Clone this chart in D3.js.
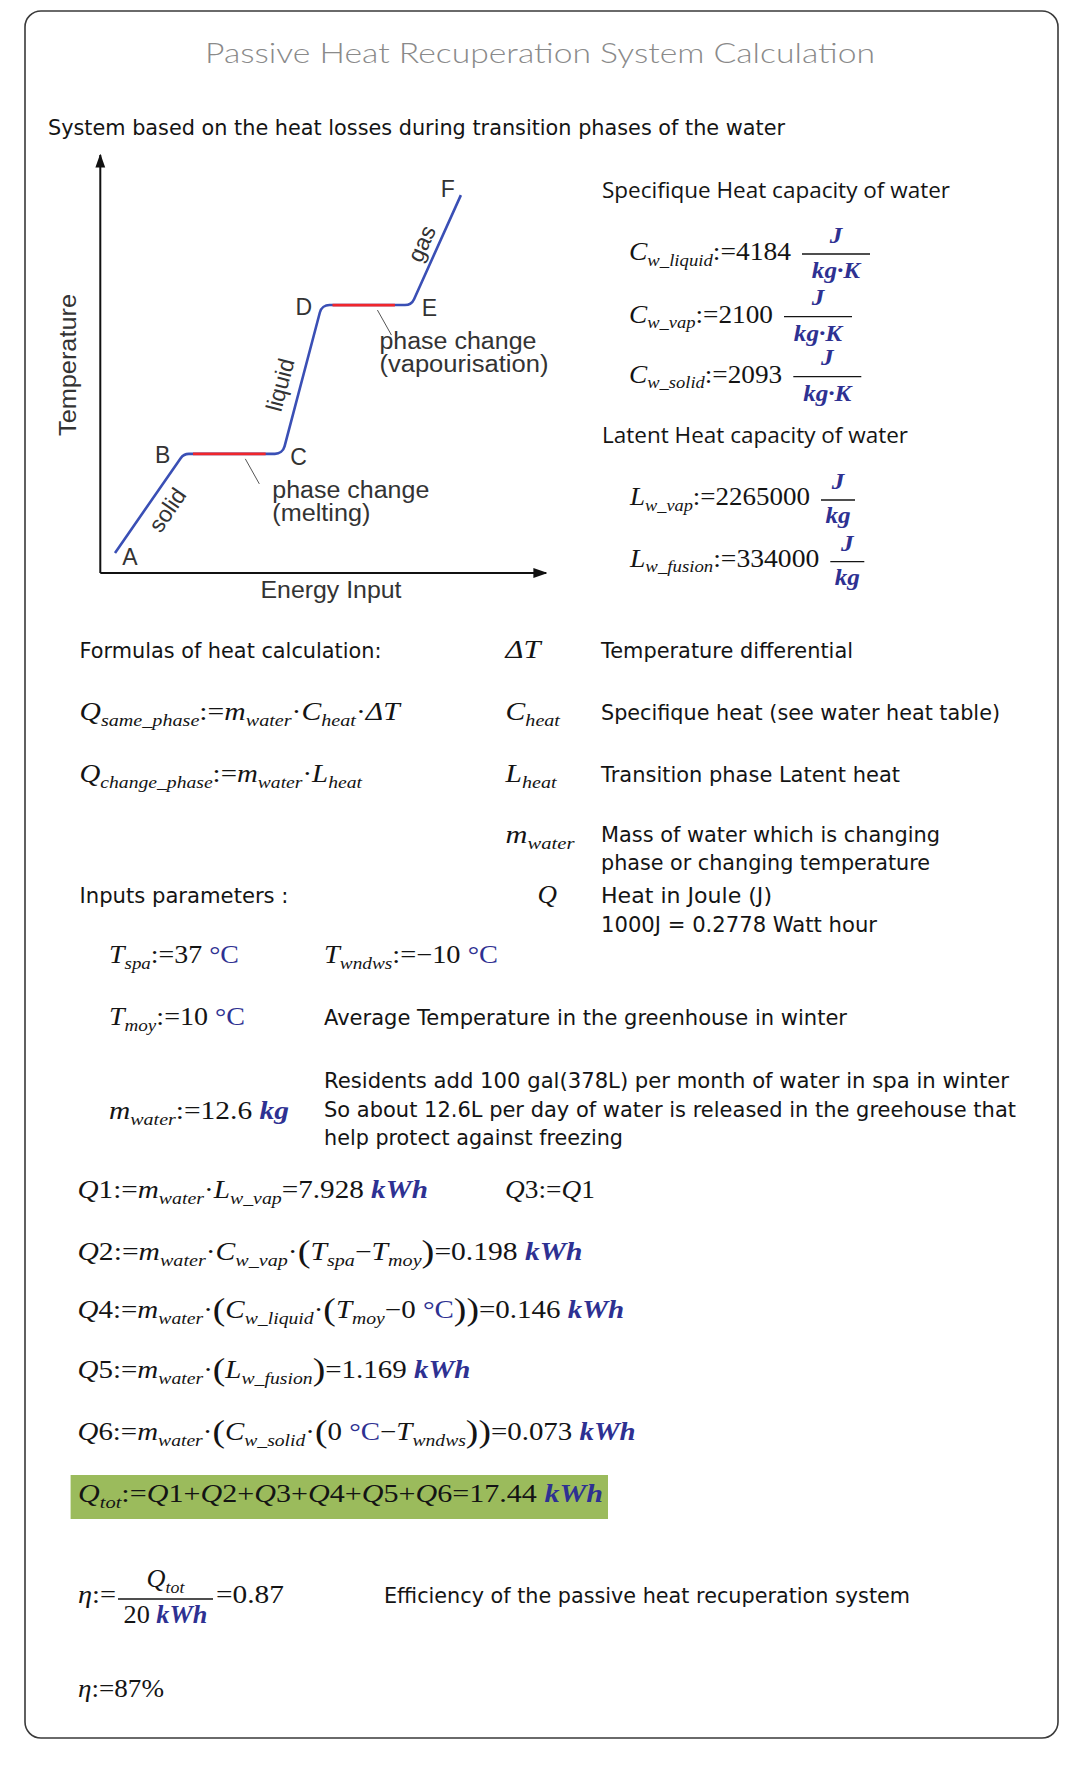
<!DOCTYPE html>
<html>
<head>
<meta charset="utf-8">
<script src="https://cdn.jsdelivr.net/npm/d3@7"></script>
<style>
  html, body { margin: 0; padding: 0; background: #fff; }
  svg { display: block; }
</style>
</head>
<body>
<svg id="chart" width="1072" height="1775"></svg>
<script>
'use strict';

// heating curve of water (arbitrary units: energy input vs temperature)
const curveLabels = ['A', 'B', 'C', 'D', 'E', 'F'];
const curveEnergy = [3.3, 18.7, 40.9, 49.7, 69.8, 80.9];
const curveTemp = [4.8, 28.5, 28.5, 64.1, 64.1, 90.4];
const stateNames = ['solid', 'liquid', 'gas']; // along A-B, C-D, E-F
const phaseNames = ['(melting)', '(vapourisation)'];
const phaseFrom = [20.8, 52.1];
const phaseTo = [37.1, 66.1];
const phaseTemp = [28.5, 64.1];

// water constants
const specificNames = ['w_liquid', 'w_vap', 'w_solid'];
const specificValues = [4184, 2100, 2093];
const latentNames = ['w_vap', 'w_fusion'];
const latentValues = [2265000, 334000];

// inputs
const tempNames = ['spa', 'wndws', 'moy'];
const tempValues = [37, -10, 10];
const waterMass = 12.6;

// results (kWh)
const heatNames = ['Q1', 'Q2', 'Q4', 'Q5', 'Q6'];
const heatFormulas = [
  'Q1:=m_{water}·L_{w_vap}=',
  'Q2:=m_{water}·C_{w_vap}·(T_{spa}−T_{moy})=',
  'Q4:=m_{water}·(C_{w_liquid}·(T_{moy}−0 <°C>))=',
  'Q5:=m_{water}·(L_{w_fusion})=',
  'Q6:=m_{water}·(C_{w_solid}·(0 <°C>−T_{wndws}))='
];
const heatValues = [7.928, 0.198, 0.146, 1.169, 0.073];
const heatTotal = 17.44;
const heatReference = 20;
const efficiency = 0.87;

const svg = d3.select('#chart');
const INK = '#141414';
const BLUE = '#2e3192';
const MATH_FONT = "'Liberation Serif', 'DejaVu Serif', serif";
const TEXT_FONT = "'DejaVu Sans', Verdana, sans-serif";
const CHART_FONT = "'Liberation Sans', Arial, sans-serif";

svg.append('rect')
  .attr('x', 25).attr('y', 11).attr('width', 1033).attr('height', 1727).attr('rx', 16)
  .attr('fill', '#fff').attr('stroke', '#3a3a3a').attr('stroke-width', 1.6);

// plain text, squeezed to the width it has in the picture
function label(x, y, txt, width, opt) {
  opt = opt || {};
  const t = svg.append('text')
    .attr('x', x).attr('y', y)
    .attr('font-family', opt.font || TEXT_FONT)
    .attr('font-size', opt.size || 21)
    .attr('font-weight', opt.weight || 400)
    .attr('fill', opt.fill || INK)
    .attr('text-anchor', opt.anchor || 'start')
    .text(txt);
  if (width) t.attr('textLength', width).attr('lengthAdjust', 'spacingAndGlyphs');
  return t;
}

// tiny math markup: _{sub}, [unit], <blue>, letters italic, rest roman
function parseMath(src) {
  const out = [];
  const push = (t, k) => {
    const last = out[out.length - 1];
    if (last && last[1] === k) last[0] += t; else out.push([t, k]);
  };
  let i = 0;
  while (i < src.length) {
    const c = src[i];
    if (c === '_' && src[i + 1] === '{') {
      const j = src.indexOf('}', i);
      out.push([src.slice(i + 2, j), 's']); i = j + 1; continue;
    }
    if (c === '[') {
      const j = src.indexOf(']', i);
      out.push([src.slice(i + 1, j), 'u']); i = j + 1; continue;
    }
    if (c === '<') {
      const j = src.indexOf('>', i);
      out.push([src.slice(i + 1, j), 'c']); i = j + 1; continue;
    }
    if (c === '(' || c === ')') { out.push([c, 'p']); i++; continue; }
    if (/[A-Za-zΔη]/.test(c)) push(c, 'i'); else push(c, 'r');
    i++;
  }
  return out;
}

const mathStyle = {
  i: {fs: 1, style: 'italic', weight: 400, fill: INK, dy: 0},
  r: {fs: 1, style: 'normal', weight: 400, fill: INK, dy: 0},
  s: {fs: 0.68, style: 'italic', weight: 400, fill: INK, dy: 0.22},
  u: {fs: 1, style: 'italic', weight: 700, fill: BLUE, dy: 0},
  c: {fs: 1, style: 'normal', weight: 400, fill: BLUE, dy: 0},
  p: {fs: 1.3, style: 'normal', weight: 400, fill: INK, dy: 0.07}
};

function math(parent, src, x, y, opt) {
  opt = opt || {};
  const size = opt.size || 25;
  const t = parent.append('text')
    .attr('font-family', MATH_FONT).attr('font-size', size)
    .style('white-space', 'pre');
  let cur = 0;
  parseMath(src).forEach(([txt, k]) => {
    const s = mathStyle[k];
    const off = s.dy * size;
    t.append('tspan')
      .attr('dy', off - cur)
      .attr('font-size', s.fs * size)
      .attr('font-style', s.style)
      .attr('font-weight', s.weight)
      .attr('fill', s.fill)
      .text(txt);
    cur = off;
  });
  const w = t.node().getComputedTextLength();
  const k = opt.width ? opt.width / w : (opt.k || 1.05);
  const x0 = opt.anchor === 'middle' ? x - w * k / 2 : x;
  t.attr('transform', 'translate(' + x0 + ',' + y + ') scale(' + k + ',1)');
  return x0 + w * k;
}

function fraction(num, den, x0, x1, base, gaps, size) {
  svg.append('line')
    .attr('x1', x0).attr('x2', x1).attr('y1', base - gaps[0]).attr('y2', base - gaps[0])
    .attr('stroke', INK).attr('stroke-width', 1.3);
  math(svg, num, (x0 + x1) / 2, base - gaps[1], {anchor: 'middle', k: 1.05, size: size});
  math(svg, den, (x0 + x1) / 2, base + gaps[2], {anchor: 'middle', k: 1.05, size: size});
}

// ---------- header ----------
label(540, 63, 'Passive Heat Recuperation System Calculation', 670,
  {anchor: 'middle', size: 28, weight: 300, fill: '#8a8a8a', font: "Lato, 'Open Sans', sans-serif"});
label(48, 135, 'System based on the heat losses during transition phases of the water', 737, {size: 22});

// ---------- heating curve ----------
const x = d3.scaleLinear().domain([0, 100]).range([100.3, 546]);
const y = d3.scaleLinear().domain([0, 100]).range([573, 155]);
const chart = svg.append('g');

const defs = svg.append('defs');
defs.append('marker').attr('id', 'arrow')
  .attr('viewBox', '0 0 10 10').attr('refX', 9).attr('refY', 5)
  .attr('markerWidth', 7).attr('markerHeight', 7).attr('orient', 'auto')
  .append('path').attr('d', 'M0,1.5L10,5L0,8.5Z').attr('fill', '#111');

chart.append('line')
  .attr('x1', x(0)).attr('y1', y(0)).attr('x2', x(100)).attr('y2', y(0))
  .attr('stroke', '#111').attr('stroke-width', 2).attr('marker-end', 'url(#arrow)');
chart.append('line')
  .attr('x1', x(0)).attr('y1', y(0)).attr('x2', x(0)).attr('y2', y(100))
  .attr('stroke', '#111').attr('stroke-width', 2).attr('marker-end', 'url(#arrow)');

const pts = curveEnergy.map((e, i) => [x(e), y(curveTemp[i])]);
const path = d3.path();
path.moveTo(pts[0][0], pts[0][1]);
for (let i = 1; i < pts.length - 1; i++) {
  path.arcTo(pts[i][0], pts[i][1], pts[i + 1][0], pts[i + 1][1], 10);
}
path.lineTo(pts[pts.length - 1][0], pts[pts.length - 1][1]);
chart.append('path').attr('d', path.toString())
  .attr('fill', 'none').attr('stroke', '#3a4fb5').attr('stroke-width', 2.6);

// note placement relative to the leader start
const noteShift = [27, 2];
phaseFrom.forEach((f, i) => {
  chart.append('line')
    .attr('x1', x(f)).attr('x2', x(phaseTo[i]))
    .attr('y1', y(phaseTemp[i])).attr('y2', y(phaseTemp[i]))
    .attr('stroke', '#f0262c').attr('stroke-width', 2.8);
  // leader to the phase change note
  const lx = x(f + 0.72 * (phaseTo[i] - f));
  chart.append('line')
    .attr('x1', lx).attr('y1', y(phaseTemp[i]) + 5)
    .attr('x2', lx + 14).attr('y2', y(phaseTemp[i]) + 30)
    .attr('stroke', '#555').attr('stroke-width', 1);
  const tx = lx + noteShift[i];
  const ty = y(phaseTemp[i]) + 44;
  label(tx, ty, 'phase change', 157, {font: CHART_FONT, size: 23, fill: '#333'});
  label(tx, ty + 23, phaseNames[i], i === 0 ? 98 : 169, {font: CHART_FONT, size: 23, fill: '#333'});
});

const labelOffset = [[15, 4], [-21, 1], [16, 3], [-18, 2], [18, 3], [-13, -6]];
curveLabels.forEach((l, i) => {
  chart.append('text')
    .attr('x', pts[i][0] + labelOffset[i][0]).attr('y', pts[i][1] + labelOffset[i][1])
    .attr('text-anchor', 'middle').attr('dominant-baseline', 'central')
    .attr('font-family', CHART_FONT).attr('font-size', 23)
    .attr('fill', '#333').text(l);
});

// state names rotated along the sloped parts: [start vertex, position along, offset across]
const statePlace = [[0, 0.54, 18.5], [2, 0.43, -20], [4, 0.5, -16]];
stateNames.forEach((s, i) => {
  const [k, t, d] = statePlace[i];
  const p0 = pts[k], p1 = pts[k + 1];
  const dx = p1[0] - p0[0], dy = p1[1] - p0[1];
  const len = Math.hypot(dx, dy);
  const cx = p0[0] + dx * t - dy / len * d;
  const cy = p0[1] + dy * t + dx / len * d;
  const ang = Math.atan2(dy, dx) * 180 / Math.PI;
  chart.append('text')
    .attr('transform', 'translate(' + cx + ',' + cy + ') rotate(' + ang + ')')
    .attr('text-anchor', 'middle').attr('dominant-baseline', 'central')
    .attr('font-family', CHART_FONT).attr('font-size', 23)
    .attr('fill', '#333').text(s);
});

chart.append('text')
  .attr('transform', 'translate(67.5,365) rotate(-90)')
  .attr('text-anchor', 'middle').attr('dominant-baseline', 'central')
  .attr('font-family', CHART_FONT).attr('font-size', 23)
  .attr('textLength', 142).attr('lengthAdjust', 'spacingAndGlyphs')
  .attr('fill', '#333').text('Temperature');
label(331, 598, 'Energy Input', 141, {anchor: 'middle', font: CHART_FONT, size: 23, fill: '#333'});

// ---------- water constants ----------
const HEAD_FONT = "'Open Sans', 'Noto Sans', sans-serif";
label(602, 198, 'Specifique Heat capacity of water', 348, {font: HEAD_FONT, size: 21});
const specificBase = [260, 322.7, 382.7];
const specificEnd = [791, 773, 782.3];
specificNames.forEach((n, i) => {
  const b = specificBase[i];
  math(svg, 'C_{' + n + '}:=' + specificValues[i], 629, b, {width: specificEnd[i] - 629});
  const x0 = specificEnd[i] + 11;
  fraction('[J]', '[kg·K]', x0, x0 + 68, b, [6, 17.5, 18], 24);
});
label(602, 443, 'Latent Heat capacity of water', 306, {font: HEAD_FONT, size: 21});
const latentBase = [505, 566.7];
const latentEnd = [810, 819.3];
latentNames.forEach((n, i) => {
  const b = latentBase[i];
  math(svg, 'L_{' + n + '}:=' + latentValues[i], 630, b, {width: latentEnd[i] - 630});
  const x0 = latentEnd[i] + 11;
  fraction('[J]', '[kg]', x0, x0 + 34, b, [5, 16, 18], 24);
});

// ---------- formulas ----------
label(79.5, 658, 'Formulas of heat calculation:', 302);
math(svg, 'Q_{same_phase}:=m_{water}·C_{heat}·ΔT', 79.5, 720, {width: 320.5});
math(svg, 'Q_{change_phase}:=m_{water}·L_{heat}', 79.5, 782, {width: 282.5});

const legendSym = ['ΔT', 'C_{heat}', 'L_{heat}', 'm_{water}', 'Q'];
const legendBase = [658, 720, 782, 843, 903];
const legendX = [505.6, 505.6, 505.6, 505.6, 537.5];
const legendW = [35, 54.4, 51, 69, 19.5];
legendSym.forEach((s, i) => math(svg, s, legendX[i], legendBase[i], {width: legendW[i]}));

label(601, 658, 'Temperature differential', 252);
label(601, 720, 'Specifique heat (see water heat table)', 399);
label(601, 782, 'Transition phase Latent heat', 299);
label(601, 842, 'Mass of water which is changing', 339);
label(601, 870, 'phase or changing temperature', 329);
label(79.5, 903, 'Inputs parameters :', 209);
label(601, 903, 'Heat in Joule (J)', 171);
label(601, 932, '1000J = 0.2778 Watt hour', 276);

// ---------- inputs ----------
const tempX = [109, 324, 109];
const tempBase = [963, 963, 1025];
const tempW = [130, 174, 136];
tempNames.forEach((n, i) => {
  const v = tempValues[i] < 0 ? '−' + Math.abs(tempValues[i]) : String(tempValues[i]);
  math(svg, 'T_{' + n + '}:=' + v + ' <°C>', tempX[i], tempBase[i], {width: tempW[i]});
});
label(324, 1025, 'Average Temperature in the greenhouse in winter', 523);
math(svg, 'm_{water}:=' + waterMass + ' [kg]', 109, 1119, {width: 180});
label(324, 1088, 'Residents add 100 gal(378L) per month of water in spa in winter', 685);
label(324, 1117, 'So about 12.6L per day of water is released in the greehouse that', 692);
label(324, 1145, 'help protect against freezing', 299);

// ---------- heat results ----------
const heatBase = [1198, 1260, 1318, 1378, 1440];
const heatEnd = [428, 583, 624.5, 470.6, 636];
heatNames.forEach((n, i) => {
  math(svg, heatFormulas[i] + d3.format('.3f')(heatValues[i]) + ' [kWh]', 77.5, heatBase[i],
    {width: heatEnd[i] - 77.5});
});
math(svg, 'Q3:=Q1', 505, 1198, {width: 90});

svg.append('rect')
  .attr('x', 70.6).attr('y', 1475).attr('width', 537.4).attr('height', 44)
  .attr('fill', '#9bbb5c');
math(svg, 'Q_{tot}:=' + ['Q1', 'Q2', 'Q3', 'Q4', 'Q5', 'Q6'].join('+') + '=' + heatTotal + ' [kWh]',
  78, 1502, {width: 525});

// ---------- efficiency ----------
math(svg, 'η:=', 78, 1603, {width: 38});
fraction('Q_{tot}', heatReference + ' [kWh]', 118, 213, 1603, [4, 16, 20]);
math(svg, '=' + efficiency.toFixed(2), 216, 1603, {width: 68});
label(384, 1603, 'Efficiency of the passive heat recuperation system', 526);
math(svg, 'η:=' + Math.round(efficiency * 100) + '%', 78, 1697, {width: 86});
</script>
</body>
</html>
